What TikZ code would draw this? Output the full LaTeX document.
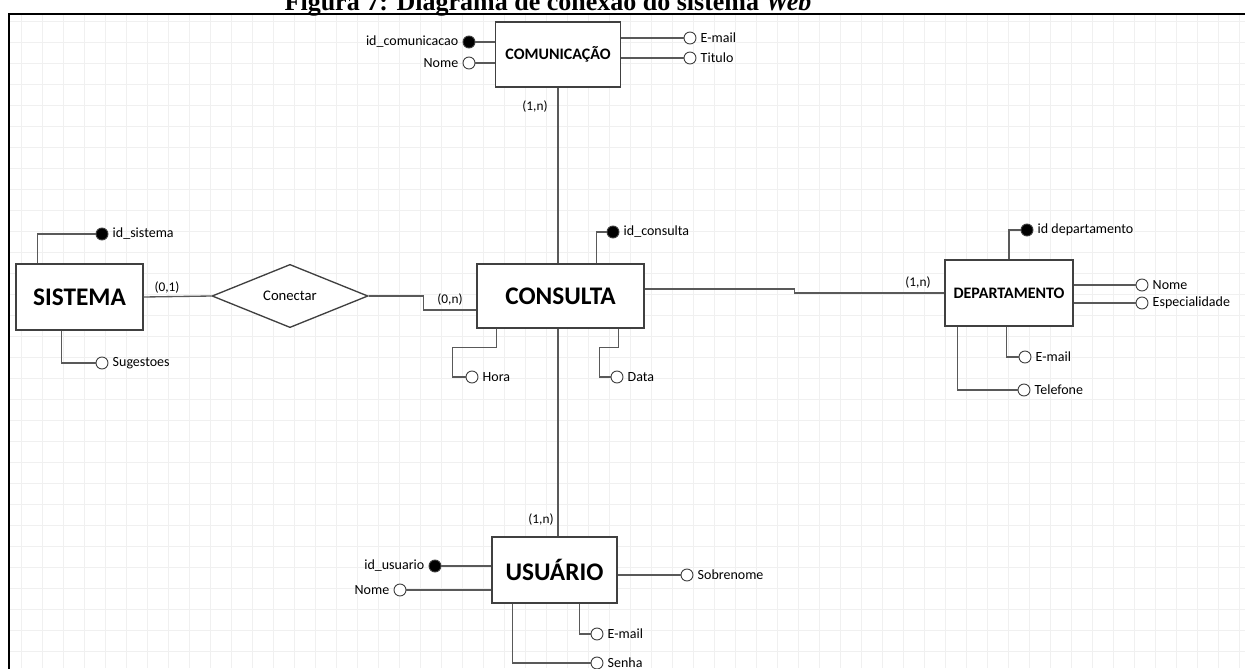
\documentclass[tikz,border=0pt]{standalone}
\usepackage{fontspec}
\setmainfont{Carlito}
\newfontfamily\titlefont{Liberation Serif}
\usepackage{tikz}
\usetikzlibrary{shapes.geometric,calc}

\begin{document}
\begin{tikzpicture}[x=0.75pt,y=-0.75pt,
      entidade/.style={rectangle,draw=black!75,line width=1.1pt,fill=white},
      grande/.style={entidade,font=\bfseries\fontsize{19}{22}\selectfont},
      pequena/.style={entidade,font=\bfseries\fontsize{12}{14}\selectfont},
      atributo/.style={circle,draw=black!75,fill=white,line width=0.7pt,minimum size=9pt,inner sep=0mm},
      chave/.style={atributo,fill=black},
      ligacao/.style={draw=black!65,line width=1pt},
      card/.style={font=\fontsize{10}{12}\selectfont,inner sep=1pt},
      every label/.style={font=\fontsize{10.5}{12}\selectfont,inner sep=1pt},
      label distance=2pt]

      \useasboundingbox (0,0) rectangle (1245,668);
      \clip (0,0) rectangle (1245,668);
      \draw[gray!12,line width=0.4pt] (9,14) grid[step=15.75pt] (1245,668);
      \draw[line width=2.2pt] (1260,14) -- (9,14) -- (9,680);
      \node[font=\titlefont\bfseries\fontsize{19.5}{22}\selectfont,anchor=base] (titulo) at (548,10)
        {Figura 7: Diagrama de conexão do sistema \textit{Web}};

      \node[grande,minimum width=95.25pt,minimum height=49.5pt] (sistema) at (79.5,297) {SISTEMA};
      \node[grande,minimum width=125.25pt,minimum height=48pt] (consulta) at (560.5,296) {CONSULTA};
      \node[pequena,minimum width=93.75pt,minimum height=48.75pt] (comunicacao) at (558,54.5) {COMUNICAÇÃO};
      \node[pequena,minimum width=96pt,minimum height=49.5pt] (departamento) at (1009,293) {DEPARTAMENTO};
      \node[grande,minimum width=93.75pt,minimum height=49.5pt] (usuario) at (554.5,570) {USUÁRIO};
      \node[diamond,draw=black!75,line width=1pt,fill=white,minimum width=117pt,minimum height=42pt,
        inner sep=0pt,font=\fontsize{11}{13}\selectfont] (conectar) at (290,296) {Conectar};

      \node[chave,label={left:id\_comunicacao}] (id-comunicacao) at (469,42) {};
      \node[atributo,label={left:Nome}] (nome-comunicacao) at (469,63) {};
      \node[atributo,label={right:E-mail}] (email-comunicacao) at (690,38) {};
      \node[atributo,label={right:Titulo}] (titulo-comunicacao) at (690,58) {};
      \draw[ligacao] (id-comunicacao) -- (id-comunicacao -| comunicacao.west);
      \draw[ligacao] (nome-comunicacao) -- (nome-comunicacao -| comunicacao.west);
      \draw[ligacao] (email-comunicacao) -- (email-comunicacao -| comunicacao.east);
      \draw[ligacao] (titulo-comunicacao) -- (titulo-comunicacao -| comunicacao.east);

      \node[chave,label={right:id\_sistema}] (id-sistema) at (102,234) {};
      \node[atributo,label={right:Sugestoes}] (sugestoes) at (102,363) {};
      \draw[ligacao] ($(sistema.north west)+(22,0)$) |- (id-sistema);
      \draw[ligacao] ($(sistema.south west)+(46,0)$) |- (sugestoes);

      \node[chave,label={right:id\_consulta}] (id-consulta) at (613,232) {};
      \node[atributo,label={right:Hora}] (hora) at (472,377) {};
      \node[atributo,label={right:Data}] (data) at (617,377) {};
      \draw[ligacao] ($(consulta.north west)+(120,0)$) |- (id-consulta);
      \draw[ligacao] ($(consulta.south west)+(20,0)$) -- ++(0,19) -- ++(-44,0) |- (hora);
      \draw[ligacao] ($(consulta.south west)+(142,0)$) -- ++(0,19) -- ++(-19,0) |- (data);

      \node[chave,label={right:id departamento}] (id-departamento) at (1027,230) {};
      \node[atributo,label={right:Nome}] (nome-departamento) at (1142,285) {};
      \node[atributo,label={right:Especialidade}] (especialidade) at (1142,303) {};
      \node[atributo,label={right:E-mail}] (email-departamento) at (1025,357) {};
      \node[atributo,label={right:Telefone}] (telefone) at (1024,390) {};
      \draw[ligacao] (departamento.north) |- (id-departamento);
      \draw[ligacao] (nome-departamento) -- (nome-departamento -| departamento.east);
      \draw[ligacao] (especialidade) -- (especialidade -| departamento.east);
      \draw[ligacao] ($(departamento.south west)+(62,0)$) |- (email-departamento);
      \draw[ligacao] ($(departamento.south west)+(13,0)$) |- (telefone);

      \node[chave,label={left:id\_usuario}] (id-usuario) at (435,566) {};
      \node[atributo,label={left:Nome}] (nome-usuario) at (400,590) {};
      \node[atributo,label={right:Sobrenome}] (sobrenome) at (687,575) {};
      \node[atributo,label={right:E-mail}] (email-usuario) at (597,634) {};
      \node[atributo,label={right:Senha}] (senha) at (597,663) {};
      \draw[ligacao] (id-usuario) -- (id-usuario -| usuario.west);
      \draw[ligacao] (nome-usuario) -- (nome-usuario -| usuario.west);
      \draw[ligacao] (sobrenome) -- (sobrenome -| usuario.east);
      \draw[ligacao] ($(usuario.south west)+(88,0)$) |- (email-usuario);
      \draw[ligacao] ($(usuario.south west)+(21,0)$) |- (senha);

      \draw[ligacao] (comunicacao.south) -- (comunicacao.south |- consulta.north);
      \draw[ligacao] (consulta.south -| comunicacao.south) -- (usuario.north -| comunicacao.south);
      \draw[ligacao] (sistema.east) -- (conectar.west);
      \draw[ligacao] (conectar.east) -- ++(55,0) |- ($(consulta.west)+(0,14)$);
      \draw[ligacao] ($(consulta.east)+(0,-7)$) -- ++(150,0) |- (departamento.west);

      \node[card] (card-comunicacao) at (535,107) {(1,n)};
      \node[card] (card-usuario) at (541,520) {(1,n)};
      \node[card] (card-sistema) at (167,288) {(0,1)};
      \node[card] (card-consulta) at (450,300) {(0,n)};
      \node[card] (card-departamento) at (918,283) {(1,n)};
\end{tikzpicture}
\end{document}
